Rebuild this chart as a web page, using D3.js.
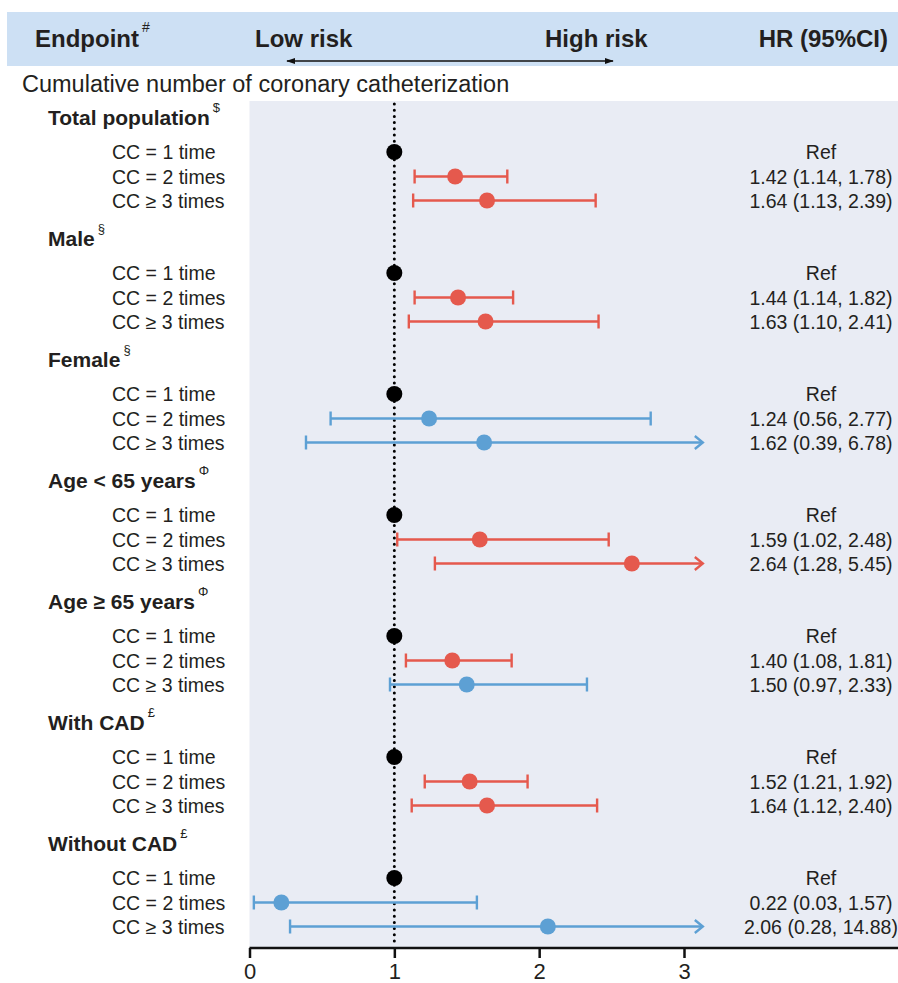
<!DOCTYPE html>
<html>
<head>
<meta charset="utf-8">
<script src="https://cdn.jsdelivr.net/npm/d3@7"></script>
<style>
  body { margin: 0; background: #fff; }
  text { font-family: "Liberation Sans", Arial, sans-serif; fill: #231f20; }
</style>
</head>
<body>
<div id="chart"></div>
<script>
// subgroups and their footnote marks
var groups = ["Total population", "Male", "Female", "Age < 65 years", "Age \u2265 65 years", "With CAD", "Without CAD"];
var groupMarks = ["$", "\u00a7", "\u00a7", "\u03a6", "\u03a6", "\u00a3", "\u00a3"];
var levels = ["CC = 1 time", "CC = 2 times", "CC \u2265 3 times"];

// hazard ratios, one array per group: [CC=1 (ref), CC=2, CC>=3]
var hr    = [[1, 1.42, 1.64], [1, 1.44, 1.63], [1, 1.24, 1.62], [1, 1.59, 2.64], [1, 1.40, 1.50], [1, 1.52, 1.64], [1, 0.22, 2.06]];
var lower = [[1, 1.14, 1.13], [1, 1.14, 1.10], [1, 0.56, 0.39], [1, 1.02, 1.28], [1, 1.08, 0.97], [1, 1.21, 1.12], [1, 0.03, 0.28]];
var upper = [[1, 1.78, 2.39], [1, 1.82, 2.41], [1, 2.77, 6.78], [1, 2.48, 5.45], [1, 1.81, 2.33], [1, 1.92, 2.40], [1, 1.57, 14.88]];

var xTicks = [0, 1, 2, 3];
var xClip = 3.13;

var width = 898, height = 983;
var red = "#e5594d", blue = "#5da0d4";

var svg = d3.select("#chart").append("svg")
  .attr("width", width)
  .attr("height", height);

var x = d3.scaleLinear().domain([0, 3]).range([249.5, 684]);
// group index -> y of the group heading baseline
var yGroup = d3.scaleLinear().domain([0, 6]).range([125, 851]);
var rowOffset = [27, 51.5, 75.5];

var panelTop = 101, panelBottom = 948;

// header band
svg.append("rect")
  .attr("x", 7).attr("y", 12)
  .attr("width", width - 7).attr("height", 54)
  .attr("fill", "#cde0f4");

var head = svg.append("g").attr("font-weight", "bold").attr("font-size", 24);
var ep = head.append("text").attr("x", 35).attr("y", 47);
ep.append("tspan").text("Endpoint");
ep.append("tspan").attr("dy", -15).attr("dx", 3).attr("font-size", 14).attr("font-weight", "normal").text("#");
head.append("text").attr("x", 255).attr("y", 47).text("Low risk");
head.append("text").attr("x", 545).attr("y", 47).text("High risk");
head.append("text").attr("x", 888).attr("y", 47).attr("text-anchor", "end").text("HR (95%CI)");

var defs = svg.append("defs");
defs.append("marker")
  .attr("id", "tri")
  .attr("viewBox", "0 0 10 10")
  .attr("refX", 9).attr("refY", 5)
  .attr("markerWidth", 6).attr("markerHeight", 6)
  .attr("orient", "auto-start-reverse")
  .append("path").attr("d", "M0,1.5L10,5L0,8.5Z").attr("fill", "#111");

svg.append("line")
  .attr("x1", 287).attr("x2", 613)
  .attr("y1", 61).attr("y2", 61)
  .attr("stroke", "#111").attr("stroke-width", 1.5)
  .attr("marker-start", "url(#tri)")
  .attr("marker-end", "url(#tri)");

svg.append("text")
  .attr("x", 22).attr("y", 92)
  .attr("font-size", 23.5)
  .text("Cumulative number of coronary catheterization");

// plot panel
svg.append("rect")
  .attr("x", x(0)).attr("y", panelTop)
  .attr("width", width - x(0)).attr("height", panelBottom - panelTop)
  .attr("fill", "#e9ecf4");

// reference line at HR = 1
svg.append("line")
  .attr("x1", x(1)).attr("x2", x(1))
  .attr("y1", panelTop + 3).attr("y2", panelBottom - 2)
  .attr("stroke", "#000").attr("stroke-width", 3)
  .attr("stroke-linecap", "round")
  .attr("stroke-dasharray", "0,6.2");

// flatten the rows
var rows = [];
groups.forEach(function(g, gi) {
  levels.forEach(function(l, li) {
    rows.push({
      group: gi, level: li, label: l,
      hr: hr[gi][li], lo: lower[gi][li], hi: upper[gi][li],
      y: yGroup(gi) + rowOffset[li]
    });
  });
});

function colorOf(d) {
  if (d.level === 0) return "#000";
  return d.lo > 1 ? red : blue;
}

// group headings
var gh = svg.selectAll(".ghead")
  .data(groups)
  .enter().append("text")
  .attr("class", "ghead")
  .attr("x", 48)
  .attr("y", function(d, i) { return yGroup(i); })
  .attr("font-size", 21)
  .attr("font-weight", "bold");
gh.append("tspan").text(function(d) { return d; });
gh.append("tspan")
  .attr("dy", -13).attr("dx", 3)
  .attr("font-size", 13).attr("font-weight", "normal")
  .text(function(d, i) { return groupMarks[i]; });

// row labels
svg.selectAll(".rlab")
  .data(rows)
  .enter().append("text")
  .attr("class", "rlab")
  .attr("x", 112)
  .attr("y", function(d) { return d.y + 7; })
  .attr("font-size", 19.5)
  .text(function(d) { return d.label; });

// HR text
svg.selectAll(".hrtext")
  .data(rows)
  .enter().append("text")
  .attr("class", "hrtext")
  .attr("x", 821)
  .attr("y", function(d) { return d.y + 7; })
  .attr("text-anchor", "middle")
  .attr("font-size", 19.5)
  .text(function(d) {
    if (d.level === 0) return "Ref";
    return d.hr.toFixed(2) + " (" + d.lo.toFixed(2) + ", " + d.hi.toFixed(2) + ")";
  });

// confidence intervals
var ci = svg.selectAll(".ci")
  .data(rows.filter(function(d) { return d.level > 0; }))
  .enter().append("g")
  .attr("class", "ci")
  .attr("stroke", colorOf)
  .attr("stroke-width", 2.4)
  .attr("fill", "none");

ci.append("line")
  .attr("x1", function(d) { return x(d.lo); })
  .attr("x2", function(d) { return x(Math.min(d.hi, xClip)); })
  .attr("y1", function(d) { return d.y; })
  .attr("y2", function(d) { return d.y; });

ci.append("line")
  .attr("x1", function(d) { return x(d.lo); })
  .attr("x2", function(d) { return x(d.lo); })
  .attr("y1", function(d) { return d.y - 7; })
  .attr("y2", function(d) { return d.y + 7; });

ci.append("path")
  .attr("d", function(d) {
    var xe = x(Math.min(d.hi, xClip));
    if (d.hi > xClip) {
      return "M" + (xe - 8) + "," + (d.y - 6.5) + "L" + xe + "," + d.y + "L" + (xe - 8) + "," + (d.y + 6.5);
    }
    return "M" + xe + "," + (d.y - 7) + "V" + (d.y + 7);
  });

// points
svg.selectAll(".pt")
  .data(rows)
  .enter().append("circle")
  .attr("class", "pt")
  .attr("cx", function(d) { return x(d.hr); })
  .attr("cy", function(d) { return d.y; })
  .attr("r", 8)
  .attr("fill", colorOf);

// x axis
var axis = svg.append("g")
  .attr("transform", "translate(0," + panelBottom + ")")
  .call(d3.axisBottom(x).tickValues(xTicks).tickSize(10).tickSizeOuter(0).tickFormat(d3.format("d")));
axis.select(".domain").attr("d", "M" + x(0) + ",0H" + width).attr("stroke-width", 2.5).attr("stroke", "#111");
axis.selectAll(".tick line").attr("stroke-width", 2.5).attr("stroke", "#111");
axis.selectAll(".tick text")
  .attr("font-size", 22)
  .attr("font-family", "Liberation Sans, Arial, sans-serif")
  .attr("fill", "#111")
  .attr("y", 31)
  .attr("dy", 0);
</script>
</body>
</html>
